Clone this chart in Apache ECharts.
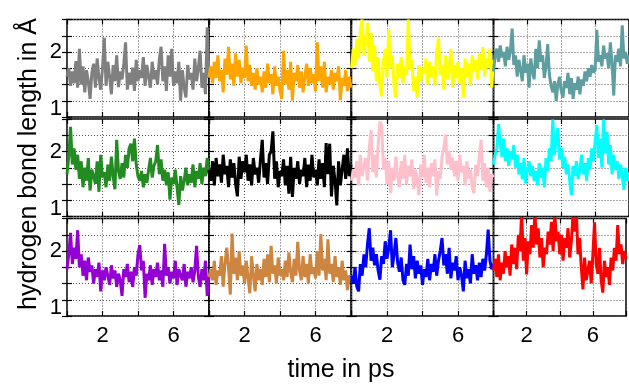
<!DOCTYPE html>
<html>
<head>
<meta charset="utf-8">
<script src="https://cdn.jsdelivr.net/npm/echarts@6/dist/echarts.min.js"></script>
<style>
  html, body { margin: 0; padding: 0; background: #fff; }
  #chart { width: 629px; height: 385px; }
</style>
</head>
<body>
<div id="chart"></div>
<script>
// time axis, 0 .. 8 ps sampled every 0.1 ps
const times = [];
for (let i = 0; i <= 80; i++) times.push(+(i * 0.1).toFixed(1));

// hydrogen bond lengths in Angstrom (row by row)
const gray = [1.62,1.75,1.48,1.70,1.52,1.86,1.45,2.05,1.50,1.78,1.38, 1.72,1.55,1.28,1.68,1.82,1.45,1.90,1.60,1.42,1.75, 2.22,1.48,1.85,1.62,1.35,1.80,1.55,1.95,1.46,1.70, 1.58,1.82,2.15,1.42,1.68,1.50,1.76,1.40,1.88,1.55, 1.72,1.60,1.92,1.48,1.80,1.62,1.45,1.85,1.58,1.72, 1.50,1.88,2.08,1.55,1.78,1.40,1.95,1.62,2.05,1.48, 1.70,1.52,1.85,1.25,1.72,1.45,1.30,1.80,1.58,1.68, 1.42,1.90,1.55,1.75,2.02,1.45,1.68,1.35,2.38,1.60];
const orange = [1.62,1.78,1.52,1.85,1.60,1.95,1.55,1.72,1.38,1.90,1.65, 2.08,1.58,1.82,1.48,1.98,1.62,1.88,1.52,1.76,1.60, 2.10,1.55,1.80,1.48,1.68,1.42,1.75,1.50,1.62,1.38, 1.70,1.45,1.82,1.52,1.66,1.35,1.78,1.48,1.62,1.40, 1.28,2.02,1.50,1.72,1.42,1.85,1.25,1.68,1.55,1.80, 1.45,1.70,1.38,1.62,1.82,1.48,1.75,1.52,1.66,1.40, 2.15,1.55,1.78,1.45,1.85,1.38,1.62,1.50,1.72,1.42, 1.68,1.55,1.78,1.26,1.60,1.48,1.72,1.40,1.62,1.45];
const yellow = [1.75,2.05,1.80,2.20,1.90,2.35,2.50,1.95,2.15,2.45,1.85, 2.30,1.70,2.10,1.55,1.92,1.48,1.32,1.85,2.05,1.60, 2.35,1.75,1.95,1.45,1.30,1.82,1.60,1.92,1.52,1.78, 1.65,2.50,1.72,1.88,1.40,1.62,1.30,1.80,1.55,1.75, 1.68,1.90,1.50,1.85,1.62,1.78,1.48,2.00,2.22,1.65, 1.80,1.42,1.95,1.58,1.72,2.05,1.45,1.80,1.60,1.85, 1.52,1.75,1.30,1.90,1.62,1.82,1.48,1.95,1.70,1.88, 1.58,1.98,1.72,2.08,1.62,1.90,1.78,2.05,1.45,1.88];
const teal = [1.70,1.95,2.05,1.85,2.10,1.92,2.00,1.78,2.08,1.88,2.02, 2.36,1.80,1.95,1.62,1.88,1.72,1.55,1.95,1.68,1.82, 1.45,1.90,1.70,1.58,2.05,1.75,2.18,1.85,1.95,1.60, 1.78,2.12,1.65,1.48,1.38,1.55,1.25,1.50,1.62,1.40, 1.30,1.55,1.45,1.68,1.35,1.60,1.28,1.52,1.42,1.62, 1.35,1.58,1.48,1.70,1.55,1.75,1.62,1.80,1.68,1.72, 2.34,1.85,1.95,1.78,2.10,1.90,1.98,1.75,2.15,1.82, 1.33,1.95,1.85,2.05,1.78,2.41,1.90,2.00,1.82,1.95];
const green = [1.65,1.92,2.38,1.80,2.05,1.72,1.95,1.58,1.85,1.45,1.75, 1.55,1.90,1.40,1.72,1.62,1.50,1.85,1.38,1.95,1.60, 1.68,1.45,1.80,1.55,1.92,1.62,1.42,2.18,1.70,1.58, 1.82,1.60,1.95,1.75,2.05,2.12,1.85,2.20,1.80,1.62, 1.55,1.70,1.45,1.65,1.52,1.72,1.90,1.60,1.78,1.85, 2.10,1.65,1.88,1.55,1.72,1.48,1.68,1.26,1.60,1.50, 1.72,1.45,1.18,1.62,1.40,1.55,1.75,1.48,1.65,1.52, 1.80,1.45,1.70,1.58,1.82,1.50,1.75,1.62,1.90,1.65];
const black = [1.72,1.55,1.85,1.48,1.90,1.62,1.80,1.52,1.95,1.65,1.78, 1.45,1.88,1.60,1.82,1.50,1.31,1.92,1.58,1.85,1.68, 1.95,1.55,1.80,1.48,1.90,1.65,1.75,1.52,1.88,2.18, 1.60,1.82,1.50,1.95,2.00,2.31,1.58,1.85,1.45,1.70, 1.62,1.88,1.48,1.78,1.35,1.92,1.30,1.75,1.58,1.85, 1.50,1.72,1.62,1.90,1.45,1.80,1.55,1.95,1.60,1.72, 1.48,1.88,1.58,1.82,1.45,2.13,1.65,2.12,1.31,1.78, 1.55,1.17,1.85,1.48,1.72,1.95,1.58,2.05,1.62,1.80];
const pink = [1.55,1.72,1.60,1.85,1.48,1.95,1.62,1.78,1.90,1.55,2.05, 2.33,1.68,1.95,1.60,2.10,2.46,2.40,1.72,1.90,1.50, 1.85,1.36,1.75,1.55,1.92,1.62,1.45,1.85,1.58,1.95, 1.50,1.78,1.62,1.88,1.42,1.72,1.55,1.33,1.80,1.60, 1.95,1.52,1.75,1.45,1.82,1.62,1.88,1.32,1.70,1.58, 1.92,2.05,2.26,1.80,2.00,1.72,1.90,1.62,1.85,1.55, 1.95,1.68,1.78,1.48,1.85,1.58,1.72,1.45,1.36,1.80, 1.62,1.92,2.18,1.55,1.82,1.45,1.75,1.38,1.65,1.60];
const cyan = [1.80,1.95,2.05,2.42,2.10,1.92,2.20,1.85,2.05,1.78,2.00, 1.88,2.10,1.75,1.95,1.65,1.82,1.58,1.90,1.51,1.72, 1.85,1.62,1.78,1.55,1.70,1.48,1.82,1.60,1.75,1.45, 1.90,1.70,2.05,1.85,2.49,1.95,2.20,2.36,1.88,2.05, 1.75,1.92,1.65,1.80,1.55,1.33,1.78,1.62,1.85,1.58, 1.72,1.95,1.65,1.82,1.55,1.90,1.72,2.05,1.85,2.15, 2.41,1.90,2.20,1.75,2.49,1.98,2.30,1.80,2.10,1.65, 1.95,1.72,1.85,1.58,1.80,1.62,1.41,1.75,1.55,1.68];
const purple = [1.72,1.95,2.28,1.80,2.05,1.88,2.32,1.75,1.95,1.62,1.85, 1.55,1.90,1.68,1.78,1.50,1.72,1.60,1.82,1.38,1.70, 1.55,1.75,1.62,1.48,1.78,1.58,1.70,1.45,1.65,1.55, 1.31,1.72,1.60,1.80,1.52,1.68,1.45,1.75,1.62,1.95, 2.09,1.70,1.85,1.28,1.65,1.55,1.78,1.48,1.72,1.60, 1.82,1.55,1.70,1.45,2.11,1.62,1.75,1.50,1.68,1.58, 1.85,1.48,1.72,1.62,1.55,1.80,1.45,1.68,1.58,1.75, 1.52,1.70,2.08,1.60,1.45,1.72,1.55,1.85,1.31,1.62];
const brown = [1.60,1.72,1.55,1.85,1.48,1.70,1.62,1.92,1.45,1.80,2.05, 1.75,1.33,2.27,1.65,1.90,1.55,2.00,1.62,1.78,1.50, 1.85,1.58,1.35,1.92,1.62,1.38,1.80,1.55,1.72,1.48, 1.88,1.60,1.95,1.52,2.08,1.65,1.78,1.50,1.90,1.62, 1.72,1.55,1.85,1.60,1.98,1.68,1.52,1.88,1.62,2.14, 1.70,1.55,1.92,1.60,1.80,1.50,1.95,1.65,1.75,1.58, 2.00,1.62,2.26,1.70,1.88,1.55,2.18,1.65,1.80,1.52, 1.92,1.60,1.75,1.48,1.85,1.55,1.70,1.40,1.62,1.58];
const blue = [1.62,1.50,1.75,1.45,1.38,1.80,1.62,1.95,1.75,2.10,2.35, 1.85,2.05,1.78,1.95,1.70,1.56,1.92,1.80,2.15,1.88, 2.05,2.32,1.75,1.95,2.20,1.82,1.68,1.90,1.55,1.48, 1.80,1.62,2.10,1.72,1.92,1.58,1.85,1.65,1.78,1.48, 1.72,1.60,1.88,1.55,1.80,1.68,1.95,1.62,1.85,2.00, 2.20,1.78,1.95,1.65,2.05,1.58,1.82,1.70,1.92,1.55, 1.75,1.62,1.38,1.85,1.58,1.72,1.50,1.95,1.65,1.78, 1.55,1.82,1.60,1.88,1.70,1.95,2.33,1.85,1.72,1.80];
const red = [1.70,1.88,1.60,1.95,1.55,1.82,1.65,2.00,1.75,1.92,1.62, 2.10,1.80,2.05,1.72,2.25,2.00,2.60,1.85,2.20,1.64, 2.15,1.95,2.40,2.05,2.60,2.10,2.35,1.90,2.20,1.75, 2.05,1.95,2.30,2.10,2.45,2.00,2.60,2.15,2.30,1.95, 2.25,1.85,2.20,2.05,2.35,1.90,2.15,2.55,2.30,2.60, 1.95,2.20,1.75,1.41,1.90,1.55,1.70,1.85,1.50,1.95, 2.44,1.80,1.65,2.05,1.55,1.36,1.85,1.60,1.75,1.48, 1.90,1.70,2.05,1.85,2.40,1.95,2.10,1.80,2.00,1.88];

const panels = [gray, orange, yellow, teal, green, black, pink, cyan, purple, brown, blue, red];
const colors = ['#808080', '#ffa500', '#ffff00', '#5f9ea0', '#228b22', '#000000',
                '#ffc0cb', '#00ffff', '#9400d3', '#cd853f', '#0000ff', '#ff0000'];

const xTickLabels = [2, 6];
const yTickLabels = [1, 2];

const colLeft = [67, 209, 351.5, 493.5];
const rowTop = [19.5, 119, 218.5];
const W = 142, H = 97.5;
const font = 'Liberation Sans, Arial, sans-serif';

const grid = [], xAxis = [], yAxis = [], series = [];
const dotted = { show: true, lineStyle: { color: '#555', width: 1, type: [1, 2] } };
const ticks = { show: true, inside: true, length: 5, lineStyle: { color: '#000', width: 1.2 } };

for (let r = 0; r < 3; r++) {
    for (let c = 0; c < 4; c++) {
        const g = r * 4 + c;
        grid.push({
            left: colLeft[c], top: rowTop[r], width: W, height: H,
            show: true, borderColor: '#000', borderWidth: 1.5
        });
        xAxis.push({
            gridIndex: g, type: 'value', min: 0, max: 8, interval: 2,
            axisLine: { show: false },
            axisTick: ticks,
            splitLine: dotted,
            axisLabel: {
                show: r === 2,
                formatter: v => xTickLabels.includes(v) ? String(v) : '',
                color: '#000', fontSize: 22, fontFamily: font, margin: 9
            }
        });
        xAxis.push({
            gridIndex: g, type: 'value', min: 0, max: 8, interval: 2, position: 'top',
            axisLine: { show: false }, axisTick: ticks,
            splitLine: { show: false }, axisLabel: { show: false }
        });
        yAxis.push({
            gridIndex: g, type: 'value', min: 1, max: 2.5, interval: 0.25,
            axisLine: { show: false },
            axisTick: ticks,
            splitLine: dotted,
            axisLabel: {
                show: c === 0,
                formatter: v => yTickLabels.includes(v) ? String(v) : '',
                verticalAlignMinLabel: 'bottom',
                lineHeight: 16,
                color: '#000', fontSize: 22, fontFamily: font, margin: 5
            }
        });
        yAxis.push({
            gridIndex: g, type: 'value', min: 1, max: 2.5, interval: 0.25, position: 'right',
            axisLine: { show: false }, axisTick: ticks,
            splitLine: { show: false }, axisLabel: { show: false }
        });
        series.push({
            type: 'line',
            xAxisIndex: g * 2,
            yAxisIndex: g * 2,
            data: panels[g].map((v, i) => [times[i], v]),
            showSymbol: false,
            clip: true,
            lineStyle: { color: colors[g], width: 3 },
            silent: true
        });
    }
}

const option = {
    animation: false,
    backgroundColor: '#fff',
    grid: grid,
    xAxis: xAxis,
    yAxis: yAxis,
    series: series,
    graphic: [
        {
            type: 'text', x: 29, y: 164, rotation: Math.PI / 2,
            style: {
                text: 'hydrogen bond length in Å', fill: '#000',
                font: '25px Liberation Sans, Arial, sans-serif',
                textAlign: 'center', textVerticalAlign: 'middle'
            }
        },
        {
            type: 'text', x: 341, y: 370,
            style: {
                text: 'time in ps', fill: '#000',
                font: '25px Liberation Sans, Arial, sans-serif',
                textAlign: 'center', textVerticalAlign: 'middle'
            }
        }
    ]
};

const chart = echarts.init(document.getElementById('chart'), null, { renderer: 'canvas' });
chart.setOption(option);
</script>
</body>
</html>
